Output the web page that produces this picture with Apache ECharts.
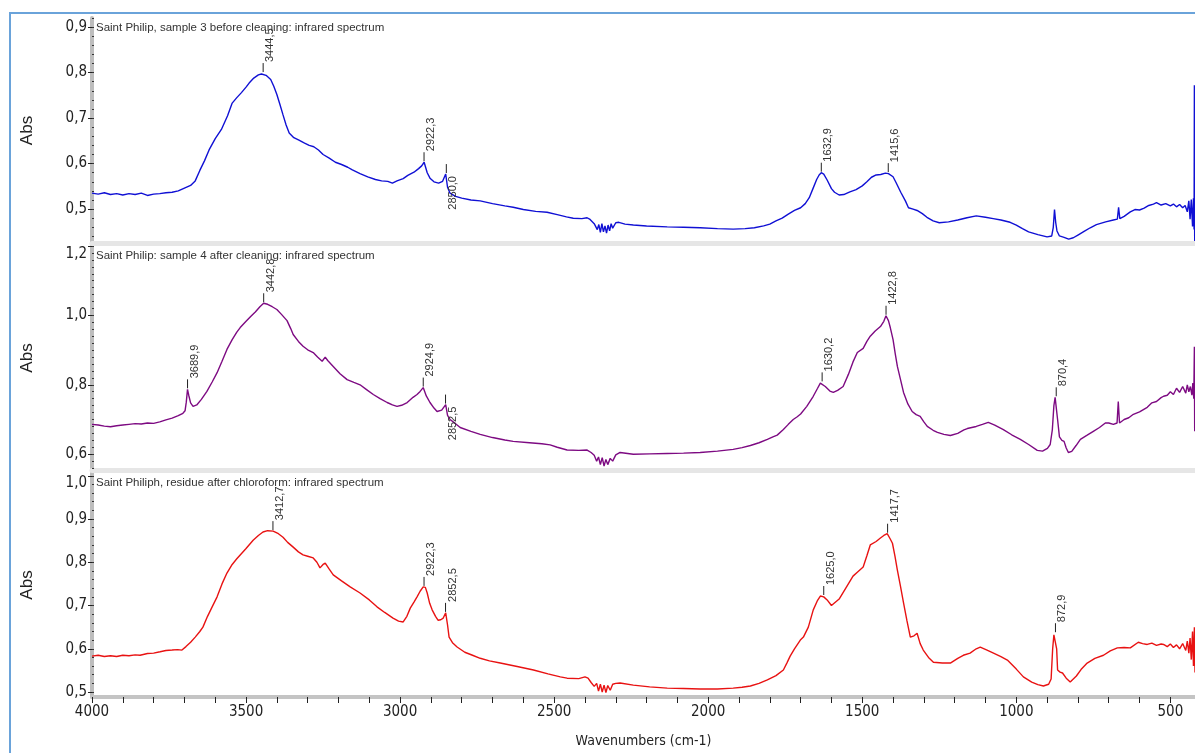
<!DOCTYPE html>
<html><head><meta charset="utf-8">
<script src="https://cdn.jsdelivr.net/npm/echarts@6/dist/echarts.min.js"></script>
<style>html,body{margin:0;padding:0;background:#fff}#c{width:1195px;height:753px}</style>
</head><body><div id="c"></div><script>
// ---------- data ----------
const panelTitles = [
  'Saint Philip, sample 3 before cleaning: infrared spectrum',
  'Saint Philip: sample 4 after cleaning: infrared spectrum',
  'Saint Philiph, residue after chloroform: infrared spectrum'
];
const xAxisName = 'Wavenumbers (cm-1)';
const yAxisName = 'Abs';
const xLabelValues = [500, 1000, 1500, 2000, 2500, 3000, 3500, 4000];
const yLabels1 = [0.5, 0.6, 0.7, 0.8, 0.9];
const yLabels2 = [0.6, 0.8, 1.0, 1.2];
const yLabels3 = [0.5, 0.6, 0.7, 0.8, 0.9, 1.0];

const sample3Before = [[4000,0.535],[3980,0.533],[3960,0.536],[3940,0.532],[3920,0.534],[3900,0.531],[3880,0.534],[3860,0.532],[3840,0.535],[3820,0.530],[3800,0.533],[3780,0.534],[3760,0.536],[3740,0.537],[3720,0.540],[3700,0.546],[3680,0.552],[3665,0.562],[3650,0.585],[3635,0.606],[3620,0.630],[3600,0.655],[3580,0.675],[3560,0.705],[3545,0.733],[3530,0.745],[3515,0.756],[3500,0.768],[3490,0.777],[3475,0.788],[3460,0.795],[3450,0.797],[3444,0.799],[3435,0.794],[3420,0.785],[3410,0.770],[3400,0.752],[3390,0.730],[3380,0.707],[3370,0.685],[3360,0.667],[3345,0.657],[3330,0.652],[3310,0.645],[3295,0.640],[3280,0.637],[3265,0.630],[3250,0.620],[3230,0.612],[3210,0.603],[3190,0.598],[3170,0.592],[3155,0.586],[3130,0.578],[3105,0.571],[3080,0.565],[3060,0.562],[3040,0.561],[3025,0.557],[3010,0.562],[2990,0.567],[2975,0.574],[2955,0.581],[2940,0.589],[2930,0.595],[2922,0.603],[2912,0.580],[2903,0.568],[2890,0.560],[2875,0.557],[2862,0.561],[2852,0.577],[2846,0.548],[2838,0.535],[2820,0.528],[2800,0.524],[2770,0.520],[2740,0.518],[2700,0.512],[2660,0.507],[2633,0.504],[2600,0.499],[2560,0.495],[2523,0.493],[2490,0.488],[2460,0.483],[2438,0.480],[2410,0.479],[2393,0.481],[2385,0.478],[2370,0.468],[2360,0.455],[2355,0.466],[2350,0.449],[2345,0.468],[2340,0.450],[2335,0.463],[2330,0.447],[2325,0.465],[2320,0.452],[2315,0.468],[2310,0.458],[2300,0.470],[2290,0.471],[2270,0.467],[2243,0.465],[2200,0.463],[2133,0.461],[2080,0.460],[2026,0.459],[1970,0.457],[1919,0.456],[1880,0.457],[1850,0.459],[1820,0.463],[1800,0.467],[1780,0.474],[1760,0.480],[1740,0.489],[1720,0.497],[1700,0.503],[1685,0.512],[1672,0.525],[1660,0.545],[1648,0.565],[1640,0.575],[1633,0.580],[1625,0.577],[1614,0.564],[1600,0.545],[1590,0.537],[1575,0.531],[1560,0.532],[1540,0.538],[1520,0.543],[1500,0.551],[1485,0.560],[1470,0.570],[1455,0.575],[1440,0.576],[1425,0.579],[1415,0.578],[1400,0.571],[1390,0.558],[1375,0.537],[1360,0.518],[1350,0.503],[1335,0.500],[1322,0.497],[1305,0.490],[1290,0.482],[1270,0.474],[1250,0.470],[1220,0.472],[1190,0.476],[1160,0.481],[1130,0.485],[1100,0.482],[1075,0.479],[1050,0.476],[1020,0.471],[1000,0.465],[980,0.457],[960,0.450],[930,0.444],[900,0.439],[885,0.441],[880,0.460],[876,0.499],[872,0.470],[868,0.452],[860,0.441],[845,0.438],[830,0.434],[815,0.437],[800,0.443],[780,0.451],[760,0.459],[740,0.466],[710,0.472],[685,0.476],[672,0.478],[668,0.504],[664,0.479],[650,0.484],[630,0.494],[615,0.499],[600,0.498],[585,0.502],[570,0.508],[555,0.511],[545,0.514],[530,0.509],[515,0.512],[500,0.507],[490,0.511],[480,0.505],[470,0.510],[460,0.503],[452,0.508],[445,0.494],[440,0.518],[436,0.478],[432,0.521],[428,0.462],[425,0.524],[423,0.455],[422,0.772],[421,0.430],[420,0.515]];

const sample4After = [[4000,0.686],[3980,0.684],[3960,0.681],[3940,0.679],[3920,0.682],[3900,0.684],[3880,0.686],[3860,0.688],[3840,0.687],[3820,0.690],[3800,0.689],[3780,0.693],[3760,0.699],[3740,0.704],[3720,0.711],[3705,0.718],[3698,0.725],[3694,0.750],[3690,0.787],[3686,0.770],[3680,0.748],[3672,0.738],[3660,0.742],[3645,0.758],[3627,0.781],[3610,0.808],[3594,0.835],[3578,0.868],[3562,0.902],[3545,0.930],[3530,0.952],[3519,0.965],[3500,0.983],[3485,0.997],[3470,1.010],[3455,1.025],[3443,1.035],[3430,1.032],[3415,1.025],[3400,1.017],[3385,1.003],[3367,0.985],[3355,0.962],[3347,0.945],[3330,0.925],[3315,0.911],[3300,0.901],[3282,0.893],[3268,0.880],[3253,0.868],[3243,0.880],[3235,0.870],[3217,0.853],[3195,0.832],[3172,0.815],[3150,0.807],[3130,0.800],[3110,0.787],[3087,0.772],[3065,0.760],[3042,0.749],[3025,0.742],[3010,0.738],[2995,0.741],[2977,0.749],[2958,0.764],[2945,0.772],[2935,0.781],[2925,0.792],[2915,0.768],[2903,0.749],[2890,0.733],[2880,0.723],[2865,0.727],[2852,0.743],[2846,0.712],[2838,0.700],[2820,0.688],[2805,0.677],[2770,0.666],[2740,0.657],[2700,0.648],[2660,0.641],[2633,0.637],[2580,0.633],[2540,0.630],[2513,0.627],[2490,0.620],[2458,0.612],[2420,0.611],[2393,0.612],[2380,0.605],[2370,0.597],[2362,0.580],[2356,0.592],[2350,0.570],[2344,0.590],[2338,0.566],[2332,0.585],[2326,0.570],[2318,0.588],[2310,0.580],[2300,0.598],[2286,0.605],[2243,0.600],[2190,0.601],[2133,0.602],[2080,0.603],[2026,0.605],[1970,0.609],[1919,0.614],[1890,0.619],[1863,0.625],[1835,0.633],[1808,0.643],[1790,0.650],[1776,0.655],[1756,0.671],[1740,0.686],[1724,0.700],[1711,0.708],[1700,0.716],[1680,0.738],[1659,0.767],[1645,0.790],[1636,0.805],[1630,0.807],[1620,0.795],[1605,0.782],[1594,0.778],[1580,0.784],[1562,0.795],[1545,0.830],[1530,0.866],[1516,0.893],[1497,0.905],[1485,0.925],[1474,0.940],[1458,0.955],[1441,0.968],[1430,0.983],[1423,0.999],[1415,0.985],[1409,0.965],[1400,0.930],[1393,0.890],[1386,0.853],[1375,0.812],[1366,0.778],[1352,0.745],[1338,0.723],[1325,0.714],[1312,0.709],[1300,0.693],[1289,0.680],[1270,0.669],[1256,0.663],[1235,0.657],[1214,0.654],[1190,0.660],[1170,0.670],[1159,0.674],[1130,0.680],[1110,0.686],[1091,0.692],[1070,0.684],[1042,0.671],[1015,0.656],[987,0.643],[960,0.628],[932,0.611],[915,0.609],[899,0.617],[890,0.628],[883,0.671],[878,0.740],[874,0.764],[870,0.760],[866,0.700],[860,0.650],[852,0.640],[845,0.637],[838,0.618],[831,0.605],[820,0.608],[806,0.625],[792,0.643],[770,0.655],[750,0.666],[730,0.677],[711,0.690],[700,0.690],[685,0.686],[673,0.690],[669,0.752],[665,0.690],[650,0.700],[635,0.705],[620,0.715],[600,0.722],[575,0.735],[560,0.748],[545,0.752],[530,0.763],[522,0.767],[510,0.770],[500,0.780],[490,0.772],[480,0.790],[470,0.778],[460,0.795],[450,0.776],[445,0.800],[440,0.780],[435,0.795],[430,0.770],[427,0.805],[424,0.760],[422,0.910],[421,0.666],[420,0.780]];

const residueChloroform = [[4000,0.583],[3980,0.585],[3960,0.582],[3940,0.584],[3920,0.582],[3900,0.585],[3880,0.584],[3860,0.586],[3844,0.585],[3820,0.589],[3800,0.590],[3779,0.593],[3760,0.596],[3740,0.597],[3722,0.598],[3708,0.597],[3695,0.605],[3680,0.615],[3665,0.627],[3650,0.640],[3640,0.650],[3625,0.675],[3610,0.697],[3594,0.720],[3578,0.750],[3562,0.775],[3545,0.795],[3530,0.808],[3519,0.817],[3500,0.832],[3477,0.851],[3460,0.862],[3445,0.870],[3430,0.873],[3412,0.872],[3395,0.866],[3380,0.858],[3365,0.846],[3347,0.835],[3330,0.824],[3315,0.817],[3300,0.814],[3282,0.810],[3270,0.800],[3260,0.787],[3250,0.795],[3243,0.798],[3230,0.784],[3217,0.771],[3190,0.757],[3162,0.743],[3130,0.729],[3100,0.713],[3075,0.697],[3050,0.684],[3023,0.671],[3005,0.664],[2990,0.662],[2978,0.675],[2967,0.694],[2955,0.708],[2945,0.720],[2935,0.733],[2925,0.743],[2918,0.742],[2912,0.729],[2904,0.705],[2896,0.690],[2885,0.675],[2877,0.666],[2868,0.667],[2860,0.671],[2852,0.683],[2846,0.655],[2841,0.627],[2830,0.614],[2815,0.604],[2790,0.592],[2765,0.585],[2740,0.578],[2710,0.572],[2675,0.567],[2620,0.559],[2567,0.551],[2520,0.542],[2480,0.535],[2458,0.532],[2420,0.531],[2400,0.535],[2390,0.532],[2380,0.522],[2370,0.513],[2362,0.520],[2356,0.502],[2350,0.518],[2344,0.500],[2338,0.516],[2332,0.499],[2326,0.515],[2318,0.504],[2310,0.518],[2300,0.520],[2286,0.521],[2243,0.516],[2190,0.512],[2133,0.509],[2080,0.508],[2026,0.507],[1970,0.507],[1919,0.509],[1890,0.511],[1863,0.514],[1835,0.520],[1808,0.528],[1780,0.538],[1756,0.551],[1744,0.568],[1734,0.583],[1720,0.600],[1701,0.620],[1691,0.627],[1675,0.650],[1659,0.690],[1645,0.712],[1636,0.722],[1625,0.720],[1614,0.713],[1600,0.700],[1594,0.697],[1575,0.715],[1551,0.743],[1530,0.768],[1516,0.777],[1497,0.789],[1485,0.815],[1474,0.840],[1455,0.848],[1441,0.856],[1430,0.862],[1419,0.866],[1410,0.855],[1402,0.844],[1394,0.815],[1386,0.782],[1376,0.745],[1366,0.706],[1355,0.665],[1344,0.627],[1332,0.630],[1322,0.636],[1312,0.612],[1302,0.597],[1285,0.580],[1269,0.569],[1240,0.567],[1214,0.567],[1190,0.578],[1172,0.585],[1150,0.590],[1130,0.600],[1117,0.604],[1095,0.597],[1074,0.590],[1050,0.582],[1029,0.574],[1000,0.553],[977,0.535],[950,0.523],[930,0.517],[912,0.514],[895,0.518],[887,0.530],[882,0.600],[878,0.632],[873,0.636],[869,0.600],[866,0.551],[858,0.546],[850,0.544],[838,0.532],[825,0.523],[805,0.537],[790,0.552],[770,0.567],[745,0.578],[717,0.585],[695,0.595],[672,0.602],[650,0.603],[630,0.602],[604,0.615],[590,0.612],[575,0.610],[560,0.613],[545,0.608],[530,0.611],[522,0.610],[510,0.605],[500,0.611],[490,0.603],[480,0.609],[470,0.600],[460,0.612],[450,0.596],[445,0.618],[440,0.590],[436,0.625],[432,0.575],[428,0.640],[425,0.560],[422,0.650],[420,0.545]];

// peak annotations: [wavenumber, absorbance, label, direction]
const peaks1 = [[3444.5,0.799,'3444,5','up'],[2922.3,0.603,'2922,3','up'],[2850.0,0.577,'2850,0','down'],[1632.9,0.580,'1632,9','up'],[1415.6,0.579,'1415,6','up']];
const peaks2 = [[3689.9,0.787,'3689,9','up'],[3442.8,1.035,'3442,8','up'],[2924.9,0.792,'2924,9','up'],[2852.5,0.743,'2852,5','down'],[1630.2,0.807,'1630,2','up'],[1422.8,0.999,'1422,8','up'],[870.4,0.764,'870,4','up']];
const peaks3 = [[3412.7,0.872,'3412,7','up'],[2922.3,0.743,'2922,3','up'],[2852.5,0.683,'2852,5','up'],[1625.0,0.722,'1625,0','up'],[1417.7,0.866,'1417,7','up'],[872.9,0.636,'872,9','up']];

// ---------- layout / style ----------
const NARROW = '"Liberation Sans Narrow","Arial Narrow","DejaVu Sans Condensed",sans-serif';
const SANS = '"Liberation Sans",Arial,sans-serif';
const colors = ['#1010d4', '#7d0a82', '#e81212'];
const X_MIN = 420, X_MAX = 4000;
const grids = [
  {top: 18, height: 225, min: 0.4255, max: 0.92, labels: yLabels1, topShift: 0},
  {top: 246, height: 224, min: 0.5545, max: 1.2, labels: yLabels2, topShift: 16},
  {top: 473, height: 224, min: 0.4885, max: 1.0064, labels: yLabels3, topShift: 14}
];
function steps(a, b, s) { const out = []; for (let v = a; v <= b + 1e-9; v += s) out.push(Math.round(v * 1000) / 1000); return out; }
const minorTicks = [steps(0.44, 0.92, 0.02), steps(0.56, 1.2, 0.02), steps(0.5, 1.0, 0.02)];
const xTicks = steps(500, 4000, 100);
const spectra = [sample3Before, sample4After, residueChloroform];
const peaks = [peaks1, peaks2, peaks3];

const option = {
  animation: false,
  backgroundColor: '#fff',
  title: panelTitles.map((t, i) => ({
    text: t, left: 96, top: grids[i].top + 4, padding: 0,
    textStyle: {fontSize: 11.5, fontWeight: 'normal', color: '#333', fontFamily: SANS}
  })),
  graphic: [{
    type: 'rect', shape: {x: 10, y: 13, width: 1300, height: 900},
    style: {fill: 'none', stroke: '#6aa3da', lineWidth: 2}, z: -1
  }],
  grid: grids.map(g => ({left: 92, right: 0, top: g.top, height: g.height})),
  xAxis: grids.map((g, i) => ({
    type: 'value', gridIndex: i, inverse: true, min: X_MIN, max: X_MAX,
    splitLine: {show: false},
    axisLine: {show: true, onZero: false, lineStyle: {color: i === 2 ? '#c4c4c4' : '#e6e6e6', width: i === 2 ? 4 : 5}},
    axisTick: {show: i === 2, customValues: xTicks, length: 6, lineStyle: {color: '#222', width: 1}},
    axisLabel: i === 2 ? {
      show: true, customValues: xLabelValues, margin: 8, color: '#222',
      fontSize: 15, fontFamily: NARROW, formatter: v => String(v)
    } : {show: false},
    name: i === 2 ? xAxisName : '', nameLocation: 'middle', nameGap: 37,
    nameTextStyle: {fontSize: 14, color: '#222', fontFamily: NARROW}
  })),
  yAxis: [].concat(...grids.map((g, i) => [
    {
      type: 'value', gridIndex: i, min: g.min, max: g.max,
      splitLine: {show: false},
      axisLine: {show: true, onZero: false, lineStyle: {color: '#bdbdbd', width: 4}},
      axisTick: {show: true, customValues: g.labels, length: 4, lineStyle: {color: '#222'}},
      axisLabel: {
        show: true, customValues: g.labels, margin: 5, color: '#222', fontSize: 15, fontFamily: NARROW,
        formatter: v => {
          const s = v.toFixed(1).replace('.', ',');
          return (g.topShift && Math.abs(v - g.labels[g.labels.length - 1]) < 1e-6) ? '{t|' + s + '}' : s;
        },
        rich: {t: {fontSize: 15, fontFamily: NARROW, color: '#222', padding: [g.topShift, 0, 0, 0]}}
      },
      name: yAxisName, nameLocation: 'middle', nameRotate: 90, nameGap: 56,
      nameTextStyle: {fontSize: 17, color: '#222', fontFamily: SANS}
    },
    {
      type: 'value', gridIndex: i, min: g.min, max: g.max, position: 'left',
      splitLine: {show: false}, axisLine: {show: false},
      axisTick: {show: true, inside: true, customValues: minorTicks[i], length: 2, lineStyle: {color: '#333', width: 1}},
      axisLabel: {show: false}
    }
  ])),
  series: [].concat(...spectra.map((d, i) => [
    {
      type: 'line', xAxisIndex: i, yAxisIndex: i * 2, data: d, showSymbol: false, symbol: 'none',
      lineStyle: {color: colors[i], width: 1.4}, z: 3
    },
    {
      type: 'custom', xAxisIndex: i, yAxisIndex: i * 2, data: peaks[i].map(p => [p[0], p[1]]), z: 4,
      renderItem: (params, api) => {
        const p = api.coord([api.value(0), api.value(1)]);
        const pk = peaks[i][params.dataIndex];
        const up = pk[3] === 'up';
        return {
          type: 'group',
          children: [
            {type: 'line', shape: {x1: p[0], y1: p[1] - 1, x2: p[0], y2: p[1] - 10}, style: {stroke: '#222', lineWidth: 1}},
            {type: 'text', x: p[0] + 7, y: up ? p[1] - 11 : p[1] + 2, rotation: Math.PI / 2,
             style: {text: pk[2], fill: '#333', fontSize: 11, fontFamily: SANS, align: up ? 'left' : 'right', verticalAlign: 'middle'}}
          ]
        };
      }
    }
  ]))
};
const chart = echarts.init(document.getElementById('c'), null, {renderer: 'canvas'});
chart.setOption(option);
</script></body></html>
